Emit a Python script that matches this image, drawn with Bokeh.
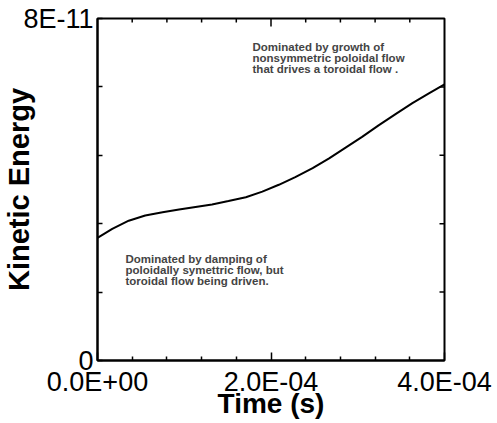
import math
from bokeh.plotting import figure
from bokeh.models import Range1d, FixedTicker, LinearAxis, Label
from bokeh.embed import file_html
from bokeh.resources import INLINE

# ---- data ----
time_s = [0.0, 0.17e-4, 0.36e-4, 0.55e-4, 0.75e-4, 0.94e-4, 1.13e-4, 1.32e-4,
          1.51e-4, 1.71e-4, 1.90e-4, 2.09e-4, 2.28e-4, 2.48e-4, 2.67e-4,
          2.86e-4, 3.05e-4, 3.24e-4, 3.44e-4, 3.63e-4, 3.82e-4, 4.00e-4]
kinetic_energy = [2.87e-11, 3.08e-11, 3.27e-11, 3.39e-11, 3.47e-11, 3.53e-11,
                  3.59e-11, 3.65e-11, 3.73e-11, 3.82e-11, 3.95e-11, 4.11e-11,
                  4.29e-11, 4.50e-11, 4.73e-11, 4.98e-11, 5.23e-11, 5.50e-11,
                  5.77e-11, 6.02e-11, 6.25e-11, 6.46e-11]

x_ticks = [0.0, 2e-4, 4e-4]
x_tick_labels = ["0.0E+00", "2.0E-04", "4.0E-04"]
x_minor_ticks = [0.4e-4, 0.8e-4, 1.2e-4, 1.6e-4, 2.4e-4, 2.8e-4, 3.2e-4, 3.6e-4]
y_ticks = [0.0, 8e-11]
y_tick_labels = ["0", "8E-11"]
y_minor_ticks = [1.6e-11, 3.2e-11, 4.8e-11, 6.4e-11]

x_title = "Time (s)"
y_title = "Kinetic Energy"
note_upper = "Dominated by growth of\nnonsymmetric poloidal flow\nthat drives a toroidal flow ."
note_lower = "Dominated by damping of\npoloidally symettric flow, but\ntoroidal flow being driven."

FONT = "Liberation Sans"

W, H = 497, 423
FL, FT, FW, FH = 97, 18, 347, 342
p = figure(width=W, height=H, output_backend="svg", toolbar_location=None,
           x_range=Range1d(x_ticks[0], x_ticks[-1]),
           y_range=Range1d(y_ticks[0], y_ticks[-1]),
           x_axis_type=None, y_axis_type=None,
           min_border_left=FL, min_border_right=W - FL - FW,
           min_border_top=FT, min_border_bottom=H - FT - FH)
p.background_fill_color = "white"
p.border_fill_color = "white"
p.outline_line_color = "black"
p.outline_line_width = 2
p.xgrid.visible = False
p.ygrid.visible = False

xt = FixedTicker(ticks=x_ticks, minor_ticks=x_minor_ticks)
yt = FixedTicker(ticks=y_ticks, minor_ticks=y_minor_ticks)


def style(ax, major_in, minor_in, title_size):
    ax.axis_line_width = 2
    ax.axis_line_color = "black"
    ax.major_tick_in = major_in
    ax.major_tick_out = 0
    ax.minor_tick_in = minor_in
    ax.minor_tick_out = 0
    ax.major_tick_line_width = 1.5
    ax.minor_tick_line_width = 1.5
    ax.major_tick_line_color = "black"
    ax.minor_tick_line_color = "black"
    ax.major_label_text_font = FONT
    ax.major_label_text_font_size = "27px"
    ax.major_label_text_color = "black"
    ax.axis_label_text_font = FONT
    ax.axis_label_text_font_style = "bold"
    ax.axis_label_text_font_size = title_size
    ax.axis_label_text_color = "black"


xb = LinearAxis(ticker=xt, major_label_overrides=dict(zip(x_ticks, x_tick_labels)),
                axis_label=x_title)
style(xb, 8, 4, "28px")
xb.major_label_standoff = 6
xb.axis_label_standoff = -12
p.add_layout(xb, "below")

yl = LinearAxis(ticker=yt, major_label_overrides=dict(zip(y_ticks, y_tick_labels)),
                axis_label=y_title)
style(yl, 5, 5, "29px")
yl.major_label_standoff = 4
yl.major_label_orientation = "horizontal"
yl.axis_label_standoff = -15
p.add_layout(yl, "left")

# inward ticks on the top and right frame edges (half of each dash is clipped by the frame)
p.scatter(x=x_minor_ticks, y=[y_ticks[-1]] * len(x_minor_ticks), marker="dash",
          angle=math.pi / 2, size=8, line_color="black", line_width=1.5)
p.scatter(x=x_ticks[1:-1], y=[y_ticks[-1]] * len(x_ticks[1:-1]), marker="dash",
          angle=math.pi / 2, size=16, line_color="black", line_width=1.5)
p.scatter(x=[x_ticks[-1]] * len(y_minor_ticks), y=y_minor_ticks, marker="dash",
          size=10, line_color="black", line_width=1.5)

p.line(time_s, kinetic_energy, line_color="black", line_width=2)

p.add_layout(Label(x=1.787e-4, y=7.485e-11, text=note_upper, text_font=FONT,
                   text_font_style="bold", text_font_size="11.5px",
                   text_line_height=0.95, text_align="left", text_baseline="top"))
p.add_layout(Label(x=0.323e-4, y=2.526e-11, text=note_lower, text_font=FONT,
                   text_font_style="bold", text_font_size="11.5px",
                   text_line_height=0.95, text_align="left", text_baseline="top"))

open("out.html", "w").write(file_html(p, INLINE))
